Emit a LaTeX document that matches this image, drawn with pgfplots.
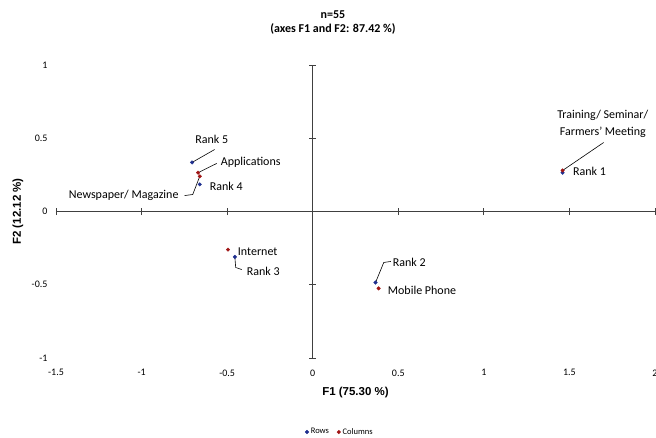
\documentclass[border=0pt]{standalone}
\usepackage{pgfplots}
\pgfplotsset{compat=1.18}
\usepackage{fontspec}
\setmainfont{Carlito}
\newfontfamily\arialfont{Liberation Sans}
\definecolor{rowblue}{HTML}{1F2F8F}
\definecolor{colred}{HTML}{A01515}
\definecolor{axgray}{HTML}{404040}
\begin{document}
\begin{tikzpicture}[x=1pt,y=1pt]
\path[use as bounding box] (-56,-79) rectangle (600,358);
% axis carrying tick labels, axis labels and title
\begin{axis}[at={(0,0)}, anchor=south west, scale only axis,
  width=599pt, height=293pt,
  xmin=-1.5, xmax=2, ymin=-1, ymax=1,
  xtick={-1.5,-1,-0.5,0,0.5,1,1.5,2},
  ytick={-1,-0.5,0,0.5,1},
  axis line style={draw=none}, major tick length=0pt, tick style={draw=none},
  /pgf/number format/assume math mode=true,
  ticklabel style={font=\fontsize{10}{12}\selectfont},
  xticklabel style={yshift=-8pt},
  yticklabel style={xshift=-5pt},
  xlabel={F1 (75.30 \%)}, ylabel={F2 (12.12 \%)},
  xlabel style={at={(axis description cs:0.5,-0.1195)}, anchor=center, font=\arialfont\bfseries\fontsize{11.5}{13}\selectfont},
  ylabel style={at={(axis description cs:-0.0634,0.5)}, anchor=center, font=\arialfont\bfseries\fontsize{11.5}{13}\selectfont},
  title={n=55\\(axes F1 and F2: 87.42 \%)},
  title style={at={(axis description cs:0.4624,1.126)}, anchor=center, align=center, font=\bfseries\fontsize{12}{14}\selectfont},
  clip=false]
\end{axis}
% axis with the crossing lines and the data
\begin{axis}[at={(0,0)}, anchor=south west, scale only axis,
  width=599pt, height=293pt,
  xmin=-1.5, xmax=2, ymin=-1, ymax=1,
  axis lines=middle, axis line style={-, axgray, line width=1.2pt},
  xtick={-1.5,-1,-0.5,0,0.5,1,1.5,2},
  ytick={-1,-0.5,0,0.5,1},
  xticklabel={\relax}, yticklabel={\relax},
  tick align=center, major tick length=7pt, tick style={axgray, line width=0.8pt},
  legend style={at={(axis description cs:0.474,-0.2526)}, anchor=center, draw=none, fill=none,
    font=\fontsize{8.5}{10}\selectfont, legend columns=2,
    /tikz/every even column/.append style={column sep=6pt}},
  legend cell align=left,
  clip=false]
\addplot[only marks, mark=*, mark size=1.8pt, color=rowblue] coordinates {
  (1.46,0.265) (0.367,-0.485) (-0.455,-0.31) (-0.66,0.185) (-0.705,0.335)};
\addlegendentry{Rows}
\addplot[only marks, mark=*, mark size=1.8pt, color=colred] coordinates {
  (1.46,0.28) (0.385,-0.525) (-0.495,-0.26) (-0.66,0.24) (-0.67,0.265)};
\addlegendentry{Columns}
% leader lines
\draw[black, line width=0.6pt] (axis cs:-0.705,0.335) -- (axis cs:-0.573,0.423);
\draw[black, line width=0.6pt] (axis cs:-0.67,0.265) -- (axis cs:-0.561,0.328);
\draw[black, line width=0.6pt] (axis cs:-0.66,0.24) -- (axis cs:-0.701,0.116) -- (axis cs:-0.748,0.109);
\draw[black, line width=0.6pt] (axis cs:-0.455,-0.31) -- (axis cs:-0.45,-0.382) -- (axis cs:-0.415,-0.396);
\draw[black, line width=0.6pt] (axis cs:0.367,-0.485) -- (axis cs:0.415,-0.348) -- (axis cs:0.456,-0.341);
\draw[black, line width=0.6pt] (axis cs:1.46,0.28) -- (axis cs:1.70,0.471);
% point labels
\begin{scope}[every node/.style={inner sep=0pt, font=\fontsize{12}{14}\selectfont}]
\node[anchor=center] at (axis cs:-0.59,0.49) {Rank 5};
\node[anchor=west] at (axis cs:-0.538,0.335) {Applications};
\node[anchor=east] at (axis cs:-0.783,0.109) {Newspaper/ Magazine};
\node[anchor=west] at (axis cs:-0.602,0.171) {Rank 4};
\node[anchor=west] at (axis cs:-0.438,-0.273) {Internet};
\node[anchor=west] at (axis cs:-0.386,-0.41) {Rank 3};
\node[anchor=west] at (axis cs:0.467,-0.348) {Rank 2};
\node[anchor=west] at (axis cs:0.438,-0.539) {Mobile Phone};
\node[anchor=center, align=center, font=\fontsize{12}{17}\selectfont] at (axis cs:1.695,0.60) {Training/ Seminar/\\Farmers' Meeting};
\node[anchor=west] at (axis cs:1.52,0.273) {Rank 1};
\end{scope}
\end{axis}
\end{tikzpicture}
\end{document}
